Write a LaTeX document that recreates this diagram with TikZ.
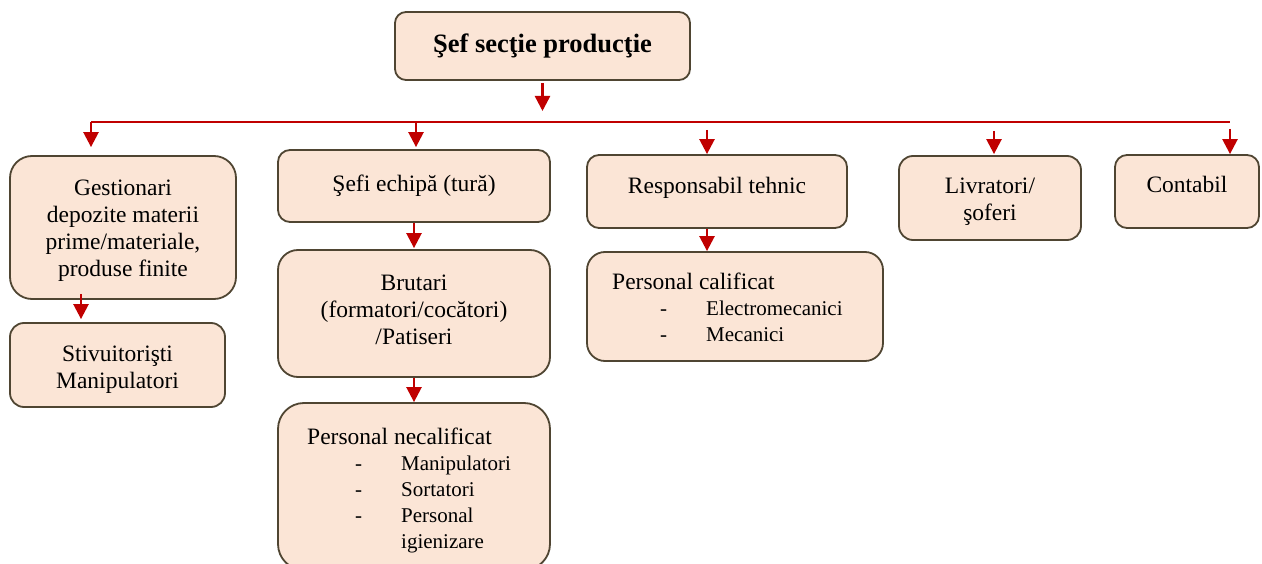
\documentclass[tikz,border=0pt]{standalone}
\usepackage{fontspec}
\setmainfont{Liberation Serif}
\usepackage{tikz}
\definecolor{boxfill}{HTML}{FBE5D6}
\definecolor{boxline}{HTML}{4F4532}
\definecolor{linkred}{HTML}{C00000}
\usetikzlibrary{
  arrows.meta,
  positioning,
  calc
}
\newcommand{\orgtext}{\fontsize{23.5}{27}\selectfont}
\newcommand{\orgsub}{\fontsize{21}{26}\selectfont}
\newcommand{\orgtitle}{\fontsize{26.5}{30}\selectfont\bfseries}
\newcommand{\orgitem}[1]{\hspace*{48pt}\makebox[46pt][l]{-}#1}
\tikzset{
  every picture/.style={line cap=butt, line join=round},
  orgbox/.style={
    draw=boxline,
    fill=boxfill,
    line width=1.8pt,
    rounded corners=12pt,
    align=center,
    inner sep=0pt,
    font=\orgtext
  },
  boxtext/.style={align=center, inner sep=0pt, font=\orgtext},
  listtext/.style={align=left, inner sep=0pt, anchor=north west, font=\orgsub},
  link/.style={-{Triangle[width=15pt,length=15pt]}, draw=linkred, line width=2.5pt},
  bus/.style={draw=linkred, line width=1.8pt}
}

\begin{document}
\begin{tikzpicture}[x=1pt,y=-1pt]
  \useasboundingbox (0,0) rectangle (1262,564);

  % Top: head of the section
  \node[orgbox, font=\orgtitle, minimum width=295pt, minimum height=68pt, rounded corners=11pt] (chief) at (542.5,46) {Şef secţie producţie};

  % First level
  \node[orgbox, minimum width=226pt, minimum height=143pt, rounded corners=22pt] (gest) at (123,227.5) {};
  \node[orgbox, minimum width=272pt, minimum height=72pt] (sefi) at (414,186) {Şefi echipă (tură)};
  \node[orgbox, minimum width=260pt, minimum height=73pt, text depth=13pt] (resp) at (717,191.5) {Responsabil tehnic};
  \node[orgbox, minimum width=182pt, minimum height=84pt, rounded corners=14pt] (livr) at (990,198) {};
  \node[orgbox, minimum width=144pt, minimum height=73pt, text depth=14pt] (cont) at (1187,191.5) {Contabil};

  % Lower levels
  \node[orgbox, minimum width=215pt, minimum height=84pt, rounded corners=14pt] (stiv) at (117.5,365) {};
  \node[orgbox, minimum width=272pt, minimum height=127pt, rounded corners=20pt] (brut) at (414,313.5) {};
  \node[orgbox, minimum width=272pt, minimum height=167pt, rounded corners=26pt] (necal) at (414,486.5) {};
  \node[orgbox, minimum width=296pt, minimum height=109pt, rounded corners=18pt] (pcal) at (735,306.5) {};

  % Texts of the boxes
  \node[boxtext] (gest-t) at ($(gest)+(0,3.5)$) {Gestionari\\depozite materii\\prime/materiale,\\produse finite};
  \node[boxtext] (livr-t) at ($(livr)+(0,4)$) {Livratori/\\şoferi};
  \node[boxtext] (stiv-t) at ($(stiv)+(0,5)$) {Stivuitorişti\\Manipulatori};
  \node[boxtext] (brut-t) at ($(brut)+(0,-4)$) {Brutari\\(formatori/cocători)\\/Patiseri};
  \node[listtext] (pcal-t) at (612,273) {{\orgtext Personal calificat}\\\orgitem{Electromecanici}\\\orgitem{Mecanici}};
  \node[listtext] (necal-t) at (307,428) {{\orgtext Personal necalificat}\\\orgitem{Manipulatori}\\\orgitem{Sortatori}\\\orgitem{Personal}\\\hspace*{94pt}igienizare};

  % Bus line and drops
  \coordinate (dgest) at (91,122);
  \coordinate (dsefi) at (416,122);
  \coordinate (dresp) at (707,122);
  \coordinate (dlivr) at (994,122);
  \coordinate (dcont) at (1230,122);
  \draw[bus] (dgest) -- (dcont);
  \draw[link, shorten <=2pt, shorten >=11pt] (chief.south) -- (chief.south |- dsefi);
  \foreach \d/\n/\pre/\post in {dgest/gest/0/8, dsefi/sefi/0/2, dresp/resp/8/0, dlivr/livr/9/1, dcont/cont/7/0}
    \draw[link, shorten <=\pre pt, shorten >=\post pt] (\d) -- (\d |- \n.north);

  % Links between levels
  \draw[link, shorten <=-6pt, shorten >=3pt] ($(gest.south)+(-42,0)$) -- ($(stiv.north)+(-36.5,0)$);
  \draw[link, shorten >=1pt] (sefi.south) -- (brut.north);
  \draw[link] (brut.south) -- (necal.north);
  \draw[link] ($(resp.south)+(-10,0)$) -- ($(pcal.north)+(-28,0)$);
\end{tikzpicture}
\end{document}
